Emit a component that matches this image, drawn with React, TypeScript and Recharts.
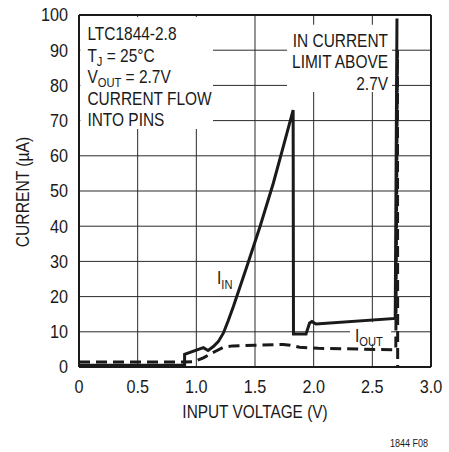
import React from "react";
import {
  LineChart,
  Line,
  XAxis,
  YAxis,
  CartesianGrid,
  ReferenceArea,
  ReferenceLine,
  ReferenceDot,
  Label,
} from "recharts";

// ---- data ----
const xTicks = [0, 0.5, 1.0, 1.5, 2.0, 2.5, 3.0];
const yTicks = [0, 10, 20, 30, 40, 50, 60, 70, 80, 90, 100];

const iinV = [0, 0.9, 0.9, 1.06, 1.1, 1.145, 1.187, 1.23, 1.27, 1.315, 1.43, 1.543, 1.656, 1.741, 1.825, 1.828, 1.935, 1.965, 1.985, 2.02, 2.695, 2.71];
const iinI = [0.5, 0.5, 3.6, 5.5, 4.7, 5.8, 7.2, 9.6, 13.0, 17.1, 28.5, 39.9, 52.2, 62.6, 73, 9.4, 9.4, 12.5, 12.9, 12.2, 13.8, 99];

const ioutV = [0, 0.9, 0.98, 1.06, 1.16, 1.23, 1.31, 1.5, 1.74, 1.8, 1.88, 2.04, 2.7, 2.714, 2.716];
const ioutI = [1.4, 1.4, 1.5, 2.6, 4.4, 5.6, 6.0, 6.2, 6.4, 6.2, 5.6, 5.3, 4.9, 90, 0];

const iinData = iinV.map((v, i) => ({ v, i: iinI[i] }));
const ioutData = ioutV.map((v, i) => ({ v, i: ioutI[i] }));

const FONT = "'Liberation Sans', Arial, sans-serif";
const INK = "#1a1a1a";
const SX = 0.86; // horizontal condensing to mimic the narrow typeface

const LeftNote = (props: any) => {
  const { x, y } = props.viewBox;
  return (
    <g transform={`translate(${x + 7},${y}) scale(${SX},1)`}>
      <text fontFamily={FONT} fontSize={18} fill={INK}>
        <tspan x={0} y={23}>LTC1844-2.8</tspan>
        <tspan x={0} y={44.5}>T</tspan>
        <tspan fontSize={13} dy={4}>J</tspan>
        <tspan dy={-4}> = 25°C</tspan>
        <tspan x={0} y={66}>V</tspan>
        <tspan fontSize={13} dy={4}>OUT</tspan>
        <tspan dy={-4}> = 2.7V</tspan>
        <tspan x={0} y={87.5}>CURRENT FLOW</tspan>
        <tspan x={0} y={109}>INTO PINS</tspan>
      </text>
    </g>
  );
};

const RightNote = (props: any) => {
  const { x, y, width } = props.viewBox;
  return (
    <g transform={`translate(${x + width - 4},${y}) scale(${SX},1)`}>
      <text fontFamily={FONT} fontSize={18} fill={INK} textAnchor="end">
        <tspan x={0} y={22}>IN CURRENT</tspan>
        <tspan x={0} y={43.5}>LIMIT ABOVE</tspan>
        <tspan x={0} y={65}>2.7V</tspan>
      </text>
    </g>
  );
};

const IinLabel = (props: any) => {
  const { x, y } = props.viewBox;
  return (
    <g transform={`translate(${x},${y}) scale(${SX},1)`}>
      <text fontFamily={FONT} fontSize={18} fill={INK} x={0} y={0}>
        I<tspan fontSize={13} dy={5}>IN</tspan>
      </text>
    </g>
  );
};

const IoutLabel = (props: any) => {
  const { x, y } = props.viewBox;
  return (
    <g transform={`translate(${x + 5},${y + 20}) scale(${SX},1)`}>
      <text fontFamily={FONT} fontSize={18} fill={INK} x={0} y={0}>
        I<tspan fontSize={13} dy={4}>OUT</tspan>
      </text>
    </g>
  );
};

const YTitle = () => (
  <g transform="translate(23,192) rotate(-90) scale(0.87,1)">
    <text fontFamily={FONT} fontSize={18} fill={INK} x={0} y={0} textAnchor="middle" dy="0.36em">
      CURRENT (µA)
    </text>
  </g>
);

const XTitle = (props: any) => {
  const { x, y, width } = props.viewBox;
  return (
    <g transform={`translate(${x + width / 2},${y + 51}) scale(0.855,1)`}>
      <text fontFamily={FONT} fontSize={18} fill={INK} x={0} y={0} textAnchor="middle">
        INPUT VOLTAGE (V)
      </text>
    </g>
  );
};

const fmtX = (v: number) => (v === 0 ? "0" : v.toFixed(1));

const XTick = (props: any) => {
  const { x, y, payload } = props;
  return (
    <g transform={`translate(${x},${y}) scale(0.9,1)`}>
      <text fontFamily={FONT} fontSize={18} fill={INK} x={0} y={0} textAnchor="middle" dy="0.72em">
        {fmtX(payload.value)}
      </text>
    </g>
  );
};

const YTick = (props: any) => {
  const { x, y, payload } = props;
  return (
    <g transform={`translate(${x},${y}) scale(0.9,1)`}>
      <text fontFamily={FONT} fontSize={18} fill={INK} x={0} y={0} textAnchor="end" dy="0.36em">
        {payload.value}
      </text>
    </g>
  );
};

export default function App() {
  return (
    <div style={{ position: "absolute", left: 0, top: 0, width: 449, height: 452, background: "#fff" }}>
      <LineChart width={449} height={452} margin={{ top: 15, right: 18, left: 0, bottom: 0 }}>
        <CartesianGrid stroke="#2a2a2a" strokeWidth={1} horizontalValues={yTicks} verticalValues={xTicks} />
        <XAxis
          dataKey="v"
          type="number"
          domain={[0, 3]}
          ticks={xTicks}
          allowDuplicatedCategory={false}
          height={85}
          tickLine={false}
          tickSize={0}
          tickMargin={13}
          axisLine={{ stroke: INK, strokeWidth: 2 }}
          tick={<XTick />}
          interval={0}
        >
          <Label content={<XTitle />} />
        </XAxis>
        <YAxis
          type="number"
          domain={[0, 100]}
          ticks={yTicks}
          width={79}
          tickLine={false}
          tickSize={0}
          tickMargin={11}
          axisLine={{ stroke: INK, strokeWidth: 2 }}
          tick={<YTick />}
          interval={0}
        >
          <Label content={<YTitle />} />
        </YAxis>
        <ReferenceLine x={3} stroke={INK} strokeWidth={2} />
        <ReferenceLine y={100} stroke={INK} strokeWidth={2} />
        <ReferenceArea x1={0.012} x2={1.142} y1={67.6} y2={99.4} fill="#fff" fillOpacity={1} stroke="none" label={<LeftNote />} />
        <ReferenceArea x1={1.773} x2={2.668} y1={78.1} y2={97.2} fill="#fff" fillOpacity={1} stroke="none" label={<RightNote />} />
        <ReferenceArea x1={2.31} x2={2.66} y1={6.6} y2={12.7} fill="#fff" fillOpacity={1} stroke="none" label={<IoutLabel />} />
        <ReferenceDot x={1.176} y={23.6} r={0} fill="none" stroke="none" label={<IinLabel />} />
        <Line
          data={ioutData}
          dataKey="i"
          type="linear"
          stroke={INK}
          strokeWidth={3}
          strokeDasharray="11 6"
          dot={false}
          isAnimationActive={false}
        />
        <Line
          data={iinData}
          dataKey="i"
          type="linear"
          stroke={INK}
          strokeWidth={3}
          dot={false}
          isAnimationActive={false}
        />
      </LineChart>
      <div
        style={{
          position: "absolute",
          left: 390,
          top: 438,
          fontFamily: FONT,
          fontSize: 10,
          color: INK,
          whiteSpace: "nowrap",
          transform: "scaleX(0.9)",
          transformOrigin: "left top",
        }}
      >
        1844 F08
      </div>
    </div>
  );
}
